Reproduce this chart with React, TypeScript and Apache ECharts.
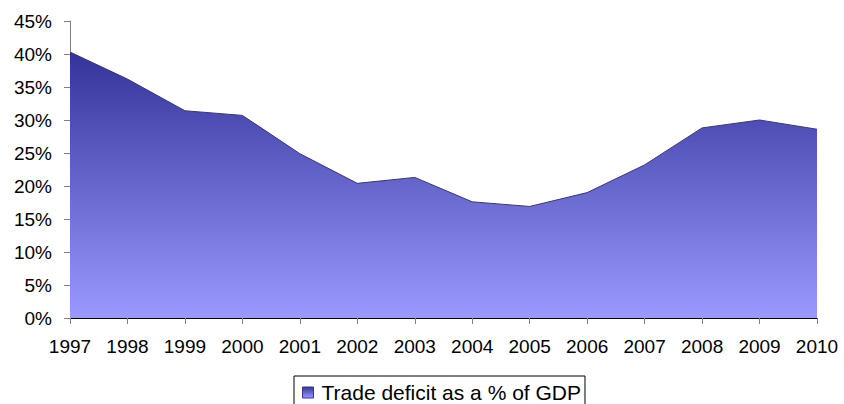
import React, { useEffect, useRef } from "react";
import * as echarts from "echarts";

const years = ["1997", "1998", "1999", "2000", "2001", "2002", "2003", "2004", "2005", "2006", "2007", "2008", "2009", "2010"];
const tradeDeficitPct = [40.3, 36.2, 31.4, 30.7, 24.9, 20.4, 21.3, 17.6, 16.9, 19.0, 23.2, 28.8, 30.0, 28.6];
const seriesName = "Trade deficit as a % of GDP";

const FONT = "'Liberation Sans', Arial, sans-serif";

export default function App() {
  const ref = useRef<HTMLDivElement>(null);
  useEffect(() => {
    document.body.style.margin = "0";
    if (!ref.current) return;
    const chart = echarts.init(ref.current, null, { renderer: "svg" });
    const grad = new echarts.graphic.LinearGradient(0, 0, 0, 1, [
      { offset: 0, color: "#333399" },
      { offset: 1, color: "#9999ff" },
    ]);
    chart.setOption({
      animation: false,
      backgroundColor: "#ffffff",
      grid: { left: 70, right: 27, top: 21, bottom: 86, containLabel: false, outerBoundsMode: "none" },
      legend: {
        left: 294,
        top: 376,
        padding: [6, 4, 8, 8],
        borderColor: "#000000",
        borderWidth: 1,
        borderRadius: 0,
        icon: "rect",
        itemWidth: 11,
        itemHeight: 11,
        textStyle: { fontFamily: FONT, fontSize: 21, color: "#000", padding: [0, 0, 0, 3] },
        data: [
          {
            name: seriesName,
            itemStyle: { color: grad, borderColor: "#333399", borderWidth: 1 },
          },
        ],
      },
      xAxis: {
        type: "category",
        data: years,
        boundaryGap: false,
        axisLine: { lineStyle: { color: "#000000", width: 1 } },
        axisTick: { show: true, length: 6, alignWithLabel: true, lineStyle: { color: "#808080" } },
        axisLabel: { fontFamily: FONT, fontSize: 19, color: "#000", margin: 19, interval: 0 },
        splitLine: { show: false },
      },
      yAxis: {
        type: "value",
        min: 0,
        max: 45,
        interval: 5,
        axisLine: { show: true, lineStyle: { color: "#808080", width: 1 } },
        axisTick: { show: true, length: 6, lineStyle: { color: "#808080" } },
        axisLabel: { fontFamily: FONT, fontSize: 19, color: "#000", margin: 18, formatter: "{value}%" },
        splitLine: { show: false },
      },
      series: [
        {
          name: seriesName,
          type: "line",
          data: tradeDeficitPct,
          symbol: "none",
          showSymbol: false,
          lineStyle: { color: "#333399", width: 1 },
          itemStyle: { color: "#333399" },
          areaStyle: { color: grad, opacity: 1 },
        },
      ],
    });
    return () => chart.dispose();
  }, []);
  return <div ref={ref} style={{ width: 844, height: 404 }} />;
}
